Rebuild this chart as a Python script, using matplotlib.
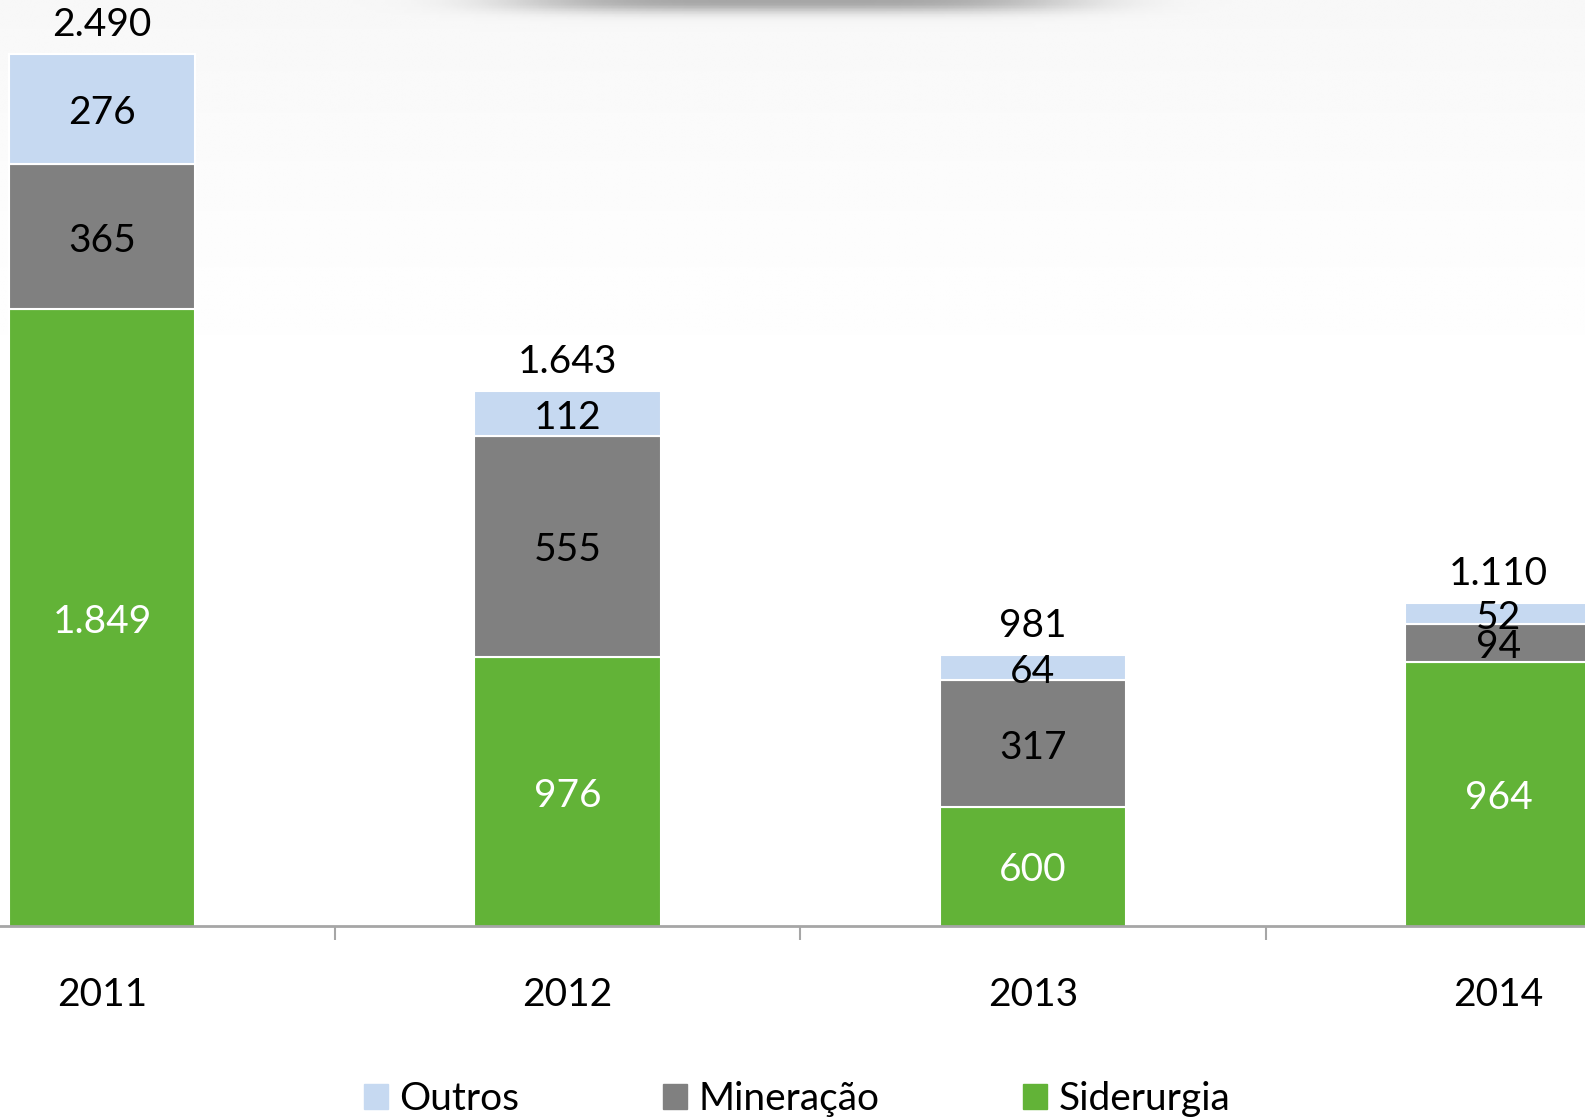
import numpy as np
import matplotlib.pyplot as plt
from matplotlib.patches import Patch

plt.rcParams['font.family'] = ['Lato', 'DejaVu Sans']

anos = ['2011', '2012', '2013', '2014']
siderurgia = [1849, 976, 600, 964]
mineracao = [365, 555, 317, 94]
outros = [276, 112, 64, 52]
totais = ['2.490', '1.643', '981', '1.110']

cor_sid = '#62b337'
cor_min = '#808080'
cor_out = '#c6d9f1'

def fmt(v):
    return f'{v:,}'.replace(',', '.')

fig = plt.figure(figsize=(15.85, 11.2), dpi=100)

# fundo com leve degrade e sombra no topo
bg = fig.add_axes([0, 0, 1, 1], zorder=-10)
yy, xx = np.mgrid[0:1:400j, 0:1:500j]
grad = 1 - 0.03 * np.clip(1 - yy / 0.4, 0, 1) ** 1.5
shadow = np.exp(-((xx - 0.5) / 0.18) ** 4) * np.exp(-(yy / 0.01) ** 2) * 0.32
img = np.clip(grad - shadow, 0, 1)
bg.imshow(img, cmap='gray', vmin=0, vmax=1, aspect='auto', extent=[0, 1, 1, 0])
bg.axis('off')

ax = fig.add_axes([0, 1 - 926 / 1120, 1, 926 / 1120])
ax.patch.set_alpha(0)

x = np.arange(len(anos))
w = 0.4
base = 300
bot2 = np.array(siderurgia) + np.array(mineracao)

ax.bar(x, siderurgia, w, color=cor_sid, edgecolor='white', linewidth=1.5)
ax.bar(x, mineracao, w, bottom=siderurgia, color=cor_min, edgecolor='white', linewidth=1.5)
ax.bar(x, outros, w, bottom=bot2, color=cor_out, edgecolor='white', linewidth=1.5)

ax.set_xlim(-0.219, 3.186)
ax.set_ylim(base, 2625)

fs = 28
lab = dict(textcoords='offset points', xytext=(0, -3), ha='center', va='center', fontsize=fs)
for i in range(len(anos)):
    ax.annotate(fmt(siderurgia[i]), (x[i], (base + siderurgia[i]) / 2), color='white', **lab)
    ax.annotate(fmt(mineracao[i]), (x[i], siderurgia[i] + mineracao[i] / 2), color='black', **lab)
    ax.annotate(fmt(outros[i]), (x[i], bot2[i] + outros[i] / 2), color='black', **lab)
    ax.annotate(totais[i], (x[i], bot2[i] + outros[i]), xytext=(0, 21), textcoords='offset points',
                ha='center', va='center', color='black', fontsize=fs)

for s in ['top', 'left', 'right']:
    ax.spines[s].set_visible(False)
ax.spines['bottom'].set_color('#a6a6a6')
ax.spines['bottom'].set_linewidth(2)
ax.set_yticks([])
ax.set_xticks(x)
ax.set_xticklabels(anos, fontsize=fs)
ax.tick_params(axis='x', length=0, pad=37)
ax.set_xticks(x[:-1] + 0.5, minor=True)
ax.tick_params(axis='x', which='minor', length=10, width=1.5, color='#a6a6a6')

handles = [Patch(color=cor_out, label='Outros'),
           Patch(color=cor_min, label='Mineração'),
           Patch(color=cor_sid, label='Siderurgia')]
fig.legend(handles=handles, loc='center', bbox_to_anchor=(0.503, 1 - 1099 / 1120), ncol=3,
           frameon=False, fontsize=fs, handlelength=0.6, handleheight=0.6,
           handletextpad=0.3, columnspacing=3.7)

fig.savefig('out.png', dpi=100)
